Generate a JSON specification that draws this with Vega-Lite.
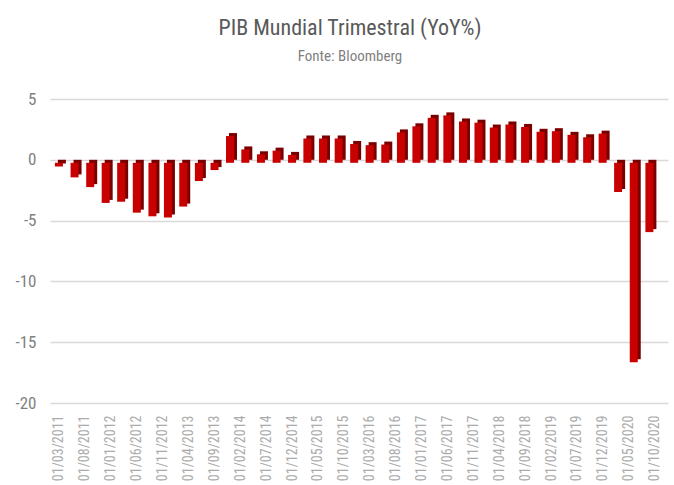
{
  "$schema": "https://vega.github.io/schema/vega-lite/v6.json",
  "autosize": {"type": "none"},
  "width": 618,
  "height": 304,
  "padding": {"left": 50, "top": 99, "right": 6, "bottom": 82},
  "background": "white",
  "config": {
    "view": {"stroke": null},
    "font": "Liberation Sans Narrow, Roboto Condensed, Roboto, sans-serif"
  },
  "title": {
    "text": "PIB Mundial Trimestral (YoY%)",
    "subtitle": "Fonte: Bloomberg",
    "anchor": "middle",
    "frame": "group",
    "dx": -9,
    "offset": 25,
    "fontSize": 22,
    "fontWeight": "normal",
    "color": "#595959",
    "subtitleFontSize": 15,
    "subtitleColor": "#7f7f7f",
    "subtitlePadding": 9
  },
  "data": {
    "values": [
      {"date": "2011-03-01", "yoy": -0.3},
      {"date": "2011-06-01", "yoy": -1.2},
      {"date": "2011-09-01", "yoy": -2.0},
      {"date": "2011-12-01", "yoy": -3.3},
      {"date": "2012-03-01", "yoy": -3.2},
      {"date": "2012-06-01", "yoy": -4.1},
      {"date": "2012-09-01", "yoy": -4.4},
      {"date": "2012-12-01", "yoy": -4.5},
      {"date": "2013-03-01", "yoy": -3.6},
      {"date": "2013-06-01", "yoy": -1.5},
      {"date": "2013-09-01", "yoy": -0.6},
      {"date": "2013-12-01", "yoy": 2.2},
      {"date": "2014-03-01", "yoy": 1.1},
      {"date": "2014-06-01", "yoy": 0.7},
      {"date": "2014-09-01", "yoy": 1.0},
      {"date": "2014-12-01", "yoy": 0.65},
      {"date": "2015-03-01", "yoy": 2.0},
      {"date": "2015-06-01", "yoy": 2.0},
      {"date": "2015-09-01", "yoy": 2.0},
      {"date": "2015-12-01", "yoy": 1.55},
      {"date": "2016-03-01", "yoy": 1.45},
      {"date": "2016-06-01", "yoy": 1.5},
      {"date": "2016-09-01", "yoy": 2.5},
      {"date": "2016-12-01", "yoy": 3.0},
      {"date": "2017-03-01", "yoy": 3.7},
      {"date": "2017-06-01", "yoy": 3.9},
      {"date": "2017-09-01", "yoy": 3.4},
      {"date": "2017-12-01", "yoy": 3.3},
      {"date": "2018-03-01", "yoy": 2.9},
      {"date": "2018-06-01", "yoy": 3.15},
      {"date": "2018-09-01", "yoy": 2.95},
      {"date": "2018-12-01", "yoy": 2.55},
      {"date": "2019-03-01", "yoy": 2.6},
      {"date": "2019-06-01", "yoy": 2.3},
      {"date": "2019-09-01", "yoy": 2.1},
      {"date": "2019-12-01", "yoy": 2.4},
      {"date": "2020-03-01", "yoy": -2.4},
      {"date": "2020-06-01", "yoy": -16.4},
      {"date": "2020-09-01", "yoy": -5.7}
    ]
  },
  "encoding": {
    "x": {
      "field": "date",
      "type": "temporal",
      "scale": {"domain": ["2011-02-06", "2020-11-20"]},
      "axis": {
        "title": null,
        "format": "%d/%m/%Y",
        "values": ["2011-03-01", "2011-08-01", "2012-01-01", "2012-06-01", "2012-11-01", "2013-04-01", "2013-09-01", "2014-02-01", "2014-07-01", "2014-12-01", "2015-05-01", "2015-10-01", "2016-03-01", "2016-08-01", "2017-01-01", "2017-06-01", "2017-11-01", "2018-04-01", "2018-09-01", "2019-02-01", "2019-07-01", "2019-12-01", "2020-05-01", "2020-10-01"],
        "labelAngle": 270,
        "labelFontSize": 14,
        "labelColor": "#ababab",
        "labelPadding": 12,
        "domain": false,
        "ticks": false,
        "grid": false,
        "labelOverlap": false,
        "labelFlush": false
      }
    },
    "y": {
      "field": "yoy",
      "type": "quantitative",
      "scale": {"domain": [-20, 5], "nice": false},
      "axis": {
        "title": null,
        "values": [-20, -15, -10, -5, 0, 5],
        "labelExpr": "'' + datum.value",
        "labelFontSize": 17,
        "labelColor": "#7f7f7f",
        "labelPadding": 14,
        "domain": false,
        "ticks": false,
        "gridColor": "#d9d9d9",
        "gridWidth": 1.5
      }
    }
  },
  "layer": [
    {
      "mark": {"type": "bar", "width": 8, "color": "#7a0000", "xOffset": 3}
    },
    {
      "mark": {"type": "bar", "width": 8, "color": "#c80000", "yOffset": 3}
    }
  ]
}
